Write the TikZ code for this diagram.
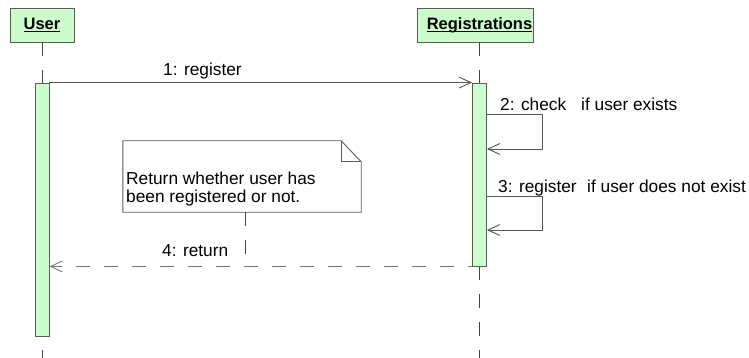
\documentclass[tikz,border=0pt]{standalone}
\usepackage{fontspec}
\setmainfont{Liberation Sans}
\usetikzlibrary{arrows.meta}

\definecolor{actfill}{HTML}{CCFCCC}
\definecolor{boxedge}{HTML}{5A5A5A}
\definecolor{msgline}{HTML}{555555}
\definecolor{replyline}{HTML}{777777}
\definecolor{lifedark}{HTML}{444444}

\tikzset{
  headbox/.style={draw=boxedge, fill=actfill, line width=0.9pt, inner sep=0pt},
  headtext/.style={inner sep=0pt, anchor=base, font=\fontsize{16.5}{19}\selectfont\bfseries},
  actbar/.style={draw=boxedge, fill=actfill, line width=0.9pt, inner sep=0pt, minimum width=14pt},
  lifeline/.style={draw=lifedark, line width=1pt, dash pattern=on 14pt off 14pt},
  msg/.style={draw=msgline, line width=0.9pt, -{Straight Barb[length=12pt,width=11pt]}},
  reply/.style={msg, draw=replyline, dash pattern=on 14pt off 14pt, dash phase=10pt},
  msglabel/.style={inner sep=0pt, anchor=base west},
  notebody/.style={draw=boxedge, fill=white, line width=0.9pt},
  notelink/.style={draw=lifedark, line width=1pt, dash pattern=on 14pt off 14pt},
}

\begin{document}
\begin{tikzpicture}[x=1pt, y=-1pt, font=\fontsize{17.3}{19}\selectfont]
\useasboundingbox (0,0) rectangle (749,358);

% lifeline heads
\node[headbox, minimum width=64pt, minimum height=34pt] (user) at (42,25) {};
\node[headbox, minimum width=116pt, minimum height=34pt] (reg) at (475,25) {};
\node[headtext] (usertxt) at (42,29.5) {\underline{\smash{User}}};
\node[headtext] (regtxt) at (479.5,29.5) {\underline{\smash{Registrations}}};

% dashed lifelines
\coordinate (utop) at (42,42);
\coordinate (ubot) at (42,358);
\coordinate (rtop) at (479.5,42);
\coordinate (rbot) at (479.5,358);
\draw[lifeline] (utop) -- (ubot);
\draw[lifeline] (rtop) -- (rbot);

% activation bars
\node[actbar, minimum height=253pt] (ubar) at (42,209.5) {};
\node[actbar, minimum height=183pt] (rbar) at (479.5,174.5) {};

% 1: register
\draw[msg] (ubar.north east) -- (rbar.north west);
\node[msglabel] (m1) at (163,75.5) {1: register};

% 2: check (self call)
\coordinate (c2a) at (542,114);
\coordinate (c2b) at (542,149);
\draw[msg] (rbar.east |- c2a) -- (c2a) -- (c2b) -- (rbar.east |- c2b);
\node[msglabel] (m2) at (500,110.5) {2: check};
\node[msglabel] (m2b) at (581,110.5) {if user exists};

% 3: register (self call)
\coordinate (c3a) at (542,196);
\coordinate (c3b) at (542,230);
\draw[msg] (rbar.east |- c3a) -- (c3a) -- (c3b) -- (rbar.east |- c3b);
\node[msglabel] (m3) at (498,192.5) {3: register};
\node[msglabel] (m3b) at (587,192.5) {if user does not exist};

% 4: return
\draw[reply] (rbar.south west) -- (ubar.east |- rbar.south west);
\node[msglabel] (m4) at (162,256) {4: return};

% note with folded corner
\node[inner sep=0pt, minimum width=238pt, minimum height=71pt] (note) at (242,176.5) {};
\draw[notebody] (note.north west) -- ([xshift=-20pt]note.north east)
  -- ([yshift=-21pt]note.north east) -- (note.south east) -- (note.south west) -- cycle;
\draw[notebody, fill=none] ([xshift=-20pt]note.north east) -- ([xshift=-20pt,yshift=-21pt]note.north east)
  -- ([yshift=-21pt]note.north east);
\node[msglabel] (n1) at (126,185) {Return whether user has};
\node[msglabel] (n2) at (126,202.7) {been registered or not.};

% note link to the return message
\coordinate (nlk) at (245,266);
\draw[notelink] (nlk |- note.south) -- (nlk);
\end{tikzpicture}
\end{document}
